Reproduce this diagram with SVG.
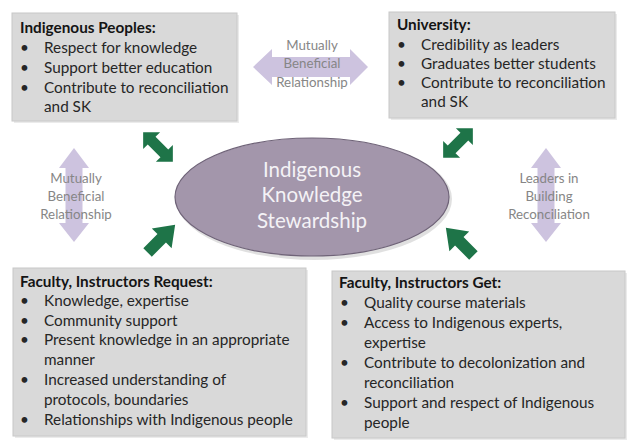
<svg xmlns="http://www.w3.org/2000/svg" width="632" height="448" viewBox="0 0 632 448">
<defs>
<style>
.box{fill:#d9d9d9;stroke:#c8c8c8;stroke-width:1}
.shadow{fill:#000;opacity:0.08}
.t{font-family:Lato,"Open Sans",sans-serif;font-size:15.3px;fill:#262626}
.h{font-weight:bold;fill:#141414}
.g{fill:#1e7448}
.p{fill:#cdc3df}
.pl{font-family:Lato,"Open Sans",sans-serif;font-size:13.3px;fill:#868686;text-anchor:middle}
.c{font-family:Lato,"Open Sans",sans-serif;font-size:20.5px;fill:#f4f2f6;text-anchor:middle}
</style>
<polygon id="dbl" points="-21,0 -9,-12 -9,-5.5 9,-5.5 9,-12 21,0 9,12 9,5.5 -9,5.5 -9,12"/>
<polygon id="sgl" points="-19,-6 1,-6 1,-14 20,0 1,14 1,6 -19,6"/>
</defs>
<rect width="632" height="448" fill="#fff"/>

<g id="connectors">
<g id="green-tl" class="g"><use href="#dbl" transform="translate(158,147) rotate(45)"/></g>
<g id="green-tr" class="g"><use href="#dbl" transform="translate(458,143) rotate(-45)"/></g>
<g id="green-bl" class="g"><use href="#sgl" transform="translate(161,239) rotate(-45)"/></g>
<g id="green-br" class="g"><use href="#sgl" transform="translate(460,242) rotate(-135)"/></g>
<g id="purple-top">
<polygon class="p" points="253,67 272,49 272,57 350,57 350,49 368,67 350,85 350,77 272,77 272,85"/>
<text class="pl" x="312" y="50">Mutually</text>
<text class="pl" x="312" y="68">Beneficial</text>
<text class="pl" x="312" y="87">Relationship</text>
</g>
<g id="purple-left">
<polygon class="p" points="74,148 89,168 82.5,168 82.5,223 89,223 74,242 59,223 65.5,223 65.5,168 59,168"/>
<text class="pl" x="76" y="183">Mutually</text>
<text class="pl" x="76" y="201">Beneficial</text>
<text class="pl" x="76" y="219">Relationship</text>
</g>
<g id="purple-right">
<polygon class="p" points="546,148 561,168 554.5,168 554.5,223 561,223 546,242 531,223 537.5,223 537.5,168 531,168"/>
<text class="pl" x="549" y="183">Leaders in</text>
<text class="pl" x="549" y="201">Building</text>
<text class="pl" x="549" y="219">Reconciliation</text>
</g>
</g>

<g id="center">
<ellipse cx="314" cy="199" rx="138" ry="61" fill="#000" opacity="0.12"/>
<ellipse cx="312" cy="197" rx="137" ry="59" fill="#a396ab" stroke="#6f6378" stroke-width="1.2"/>
<text class="c" x="312" y="177">Indigenous</text>
<text class="c" x="312" y="202">Knowledge</text>
<text class="c" x="312" y="228">Stewardship</text>
</g>

<g id="indigenous-peoples">
<rect class="shadow" x="14" y="15" width="225" height="108"/>
<rect class="box" x="12" y="13" width="225" height="108"/>
<text class="t h" x="20" y="33">Indigenous Peoples:</text>
<text class="t" x="20" y="53">•</text><text class="t" x="44" y="53">Respect for knowledge</text>
<text class="t" x="20" y="73">•</text><text class="t" x="44" y="73">Support better education</text>
<text class="t" x="20" y="93">•</text><text class="t" x="44" y="93">Contribute to reconciliation</text>
<text class="t" x="44" y="112">and SK</text>
</g>

<g id="university">
<rect class="shadow" x="391" y="14" width="226" height="106"/>
<rect class="box" x="389" y="12" width="226" height="106"/>
<text class="t h" x="397" y="30">University:</text>
<text class="t" x="397" y="50">•</text><text class="t" x="421" y="50">Credibility as leaders</text>
<text class="t" x="397" y="69">•</text><text class="t" x="421" y="69">Graduates better students</text>
<text class="t" x="397" y="88">•</text><text class="t" x="421" y="88">Contribute to reconciliation</text>
<text class="t" x="421" y="107">and SK</text>
</g>

<g id="faculty-request">
<rect class="shadow" x="15" y="270" width="293" height="168"/>
<rect class="box" x="13" y="268" width="293" height="168"/>
<text class="t h" x="20" y="287">Faculty, Instructors Request:</text>
<text class="t" x="20" y="306">•</text><text class="t" x="44" y="306">Knowledge, expertise</text>
<text class="t" x="20" y="326">•</text><text class="t" x="44" y="326">Community support</text>
<text class="t" x="20" y="345">•</text><text class="t" x="44" y="345">Present knowledge in an appropriate</text>
<text class="t" x="44" y="365">manner</text>
<text class="t" x="20" y="385">•</text><text class="t" x="44" y="385">Increased understanding of</text>
<text class="t" x="44" y="405">protocols, boundaries</text>
<text class="t" x="20" y="425">•</text><text class="t" x="44" y="425">Relationships with Indigenous people</text>
</g>

<g id="faculty-get">
<rect class="shadow" x="334" y="273" width="293" height="167"/>
<rect class="box" x="332" y="271" width="293" height="167"/>
<text class="t h" x="339" y="288">Faculty, Instructors Get:</text>
<text class="t" x="340" y="308">•</text><text class="t" x="364" y="308">Quality course materials</text>
<text class="t" x="340" y="328">•</text><text class="t" x="364" y="328">Access to Indigenous experts,</text>
<text class="t" x="364" y="348">expertise</text>
<text class="t" x="340" y="368">•</text><text class="t" x="364" y="368">Contribute to decolonization and</text>
<text class="t" x="364" y="388">reconciliation</text>
<text class="t" x="340" y="408">•</text><text class="t" x="364" y="408">Support and respect of Indigenous</text>
<text class="t" x="364" y="428">people</text>
</g>
</svg>
